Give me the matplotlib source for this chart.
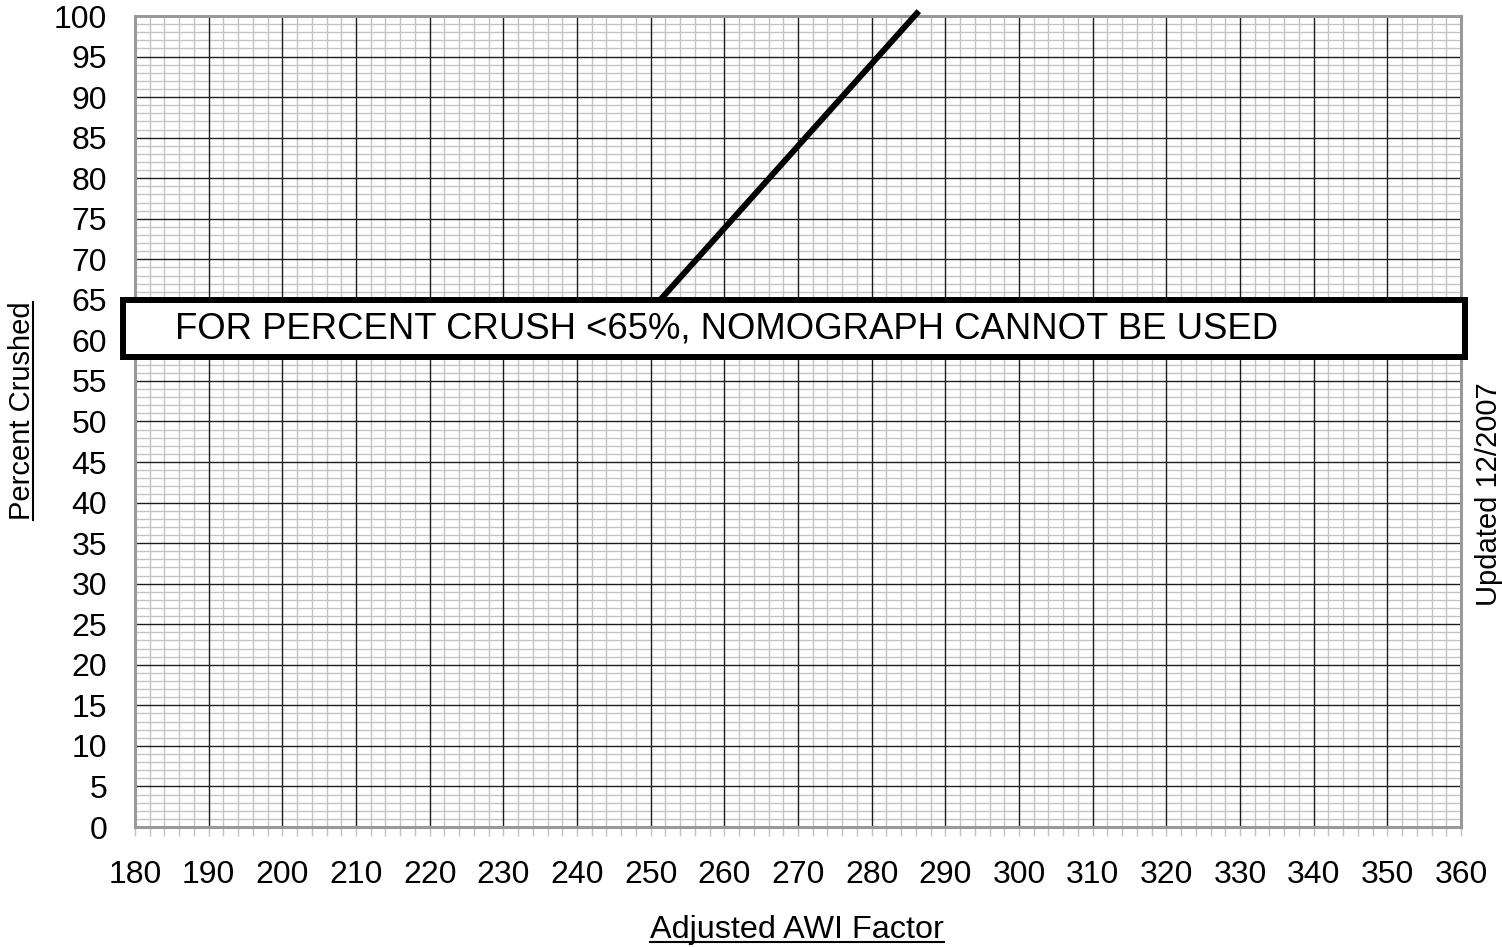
import matplotlib
matplotlib.use("Agg")
import matplotlib.pyplot as plt
from matplotlib.patches import Rectangle
from matplotlib.lines import Line2D
import numpy as np

# ---- data ----
x_ticks = list(range(180, 361, 10))
y_ticks = list(range(0, 101, 5))
line_x = [251.3, 286.4]
line_y = [65.0, 100.6]
box_x = [178.4, 360.5]
box_y = [57.9, 65.0]
box_text = "FOR PERCENT CRUSH <65%, NOMOGRAPH CANNOT BE USED"
x_label = "Adjusted AWI Factor"
y_label = "Percent Crushed"
side_note = "Updated 12/2007"

plt.rcParams['font.family'] = ['Liberation Sans', 'DejaVu Sans']

W, H = 1502, 947
fig = plt.figure(figsize=(W / 100, H / 100), dpi=100)
ax = fig.add_axes([135 / W, (H - 827) / H, (1461 - 135) / W, (827 - 16) / H])

ax.set_xlim(180, 360)
ax.set_ylim(0, 100)

# minor grid
for xv in np.arange(180, 361, 2):
    if xv % 10 != 0:
        ax.axvline(xv, color='#c4c4c4', lw=1.0, zorder=1)
for yv in np.arange(0, 101, 1):
    if yv % 5 != 0:
        ax.axhline(yv, color='#c4c4c4', lw=1.0, zorder=1)
# major grid
for xv in x_ticks[1:-1]:
    ax.axvline(xv, color='#1e1e1e', lw=1.0, zorder=2)
for yv in y_ticks[1:-1]:
    ax.axhline(yv, color='#1e1e1e', lw=1.0, zorder=2)

ax.set_xticks(x_ticks)
ax.set_xticks(np.arange(180, 361, 2), minor=True)
ax.set_yticks(y_ticks)
ax.tick_params(axis='x', which='both', direction='out', length=6.5, width=1.0,
               color='#c0c0c0', labelsize=23, pad=17)
ax.tick_params(axis='y', which='both', length=0, labelsize=23, pad=20)

for s in ax.spines.values():
    s.set_color('#999999')
    s.set_linewidth(2.2)
    s.set_zorder(3)

# data line
ax.plot(line_x, line_y, color='black', lw=4.3, solid_capstyle='butt',
        zorder=4, clip_on=False)

# box with text
rect = Rectangle((box_x[0], box_y[0]), box_x[1] - box_x[0], box_y[1] - box_y[0],
                 facecolor='white', edgecolor='black', lw=4.3, zorder=5,
                 clip_on=False)
ax.add_patch(rect)
ax.text(185.4, (box_y[0] + box_y[1]) / 2, box_text, fontsize=26.3,
        va='center', ha='left', zorder=6)

# axis labels as figure texts
t_x = fig.text(797 / W, 1 - 930 / H, x_label, fontsize=23.3, ha='center', va='center')
t_y = fig.text(22 / W, 1 - 411 / H, y_label, fontsize=21, ha='center', va='center',
               rotation=90)
fig.text(1489 / W, 1 - 494 / H, side_note, fontsize=21, ha='center', va='center',
         rotation=90)

fig.canvas.draw()
r = fig.canvas.get_renderer()
bb = t_x.get_window_extent(r)
yline = bb.y0 + 3
fig.add_artist(Line2D([bb.x0 / W, bb.x1 / W], [yline / H, yline / H],
                      transform=fig.transFigure, color='black', lw=1.5))
bb = t_y.get_window_extent(r)
xline = bb.x1 - 3
fig.add_artist(Line2D([xline / W, xline / W], [bb.y0 / H, bb.y1 / H],
                      transform=fig.transFigure, color='black', lw=1.5))

fig.savefig("out.png", dpi=100)
